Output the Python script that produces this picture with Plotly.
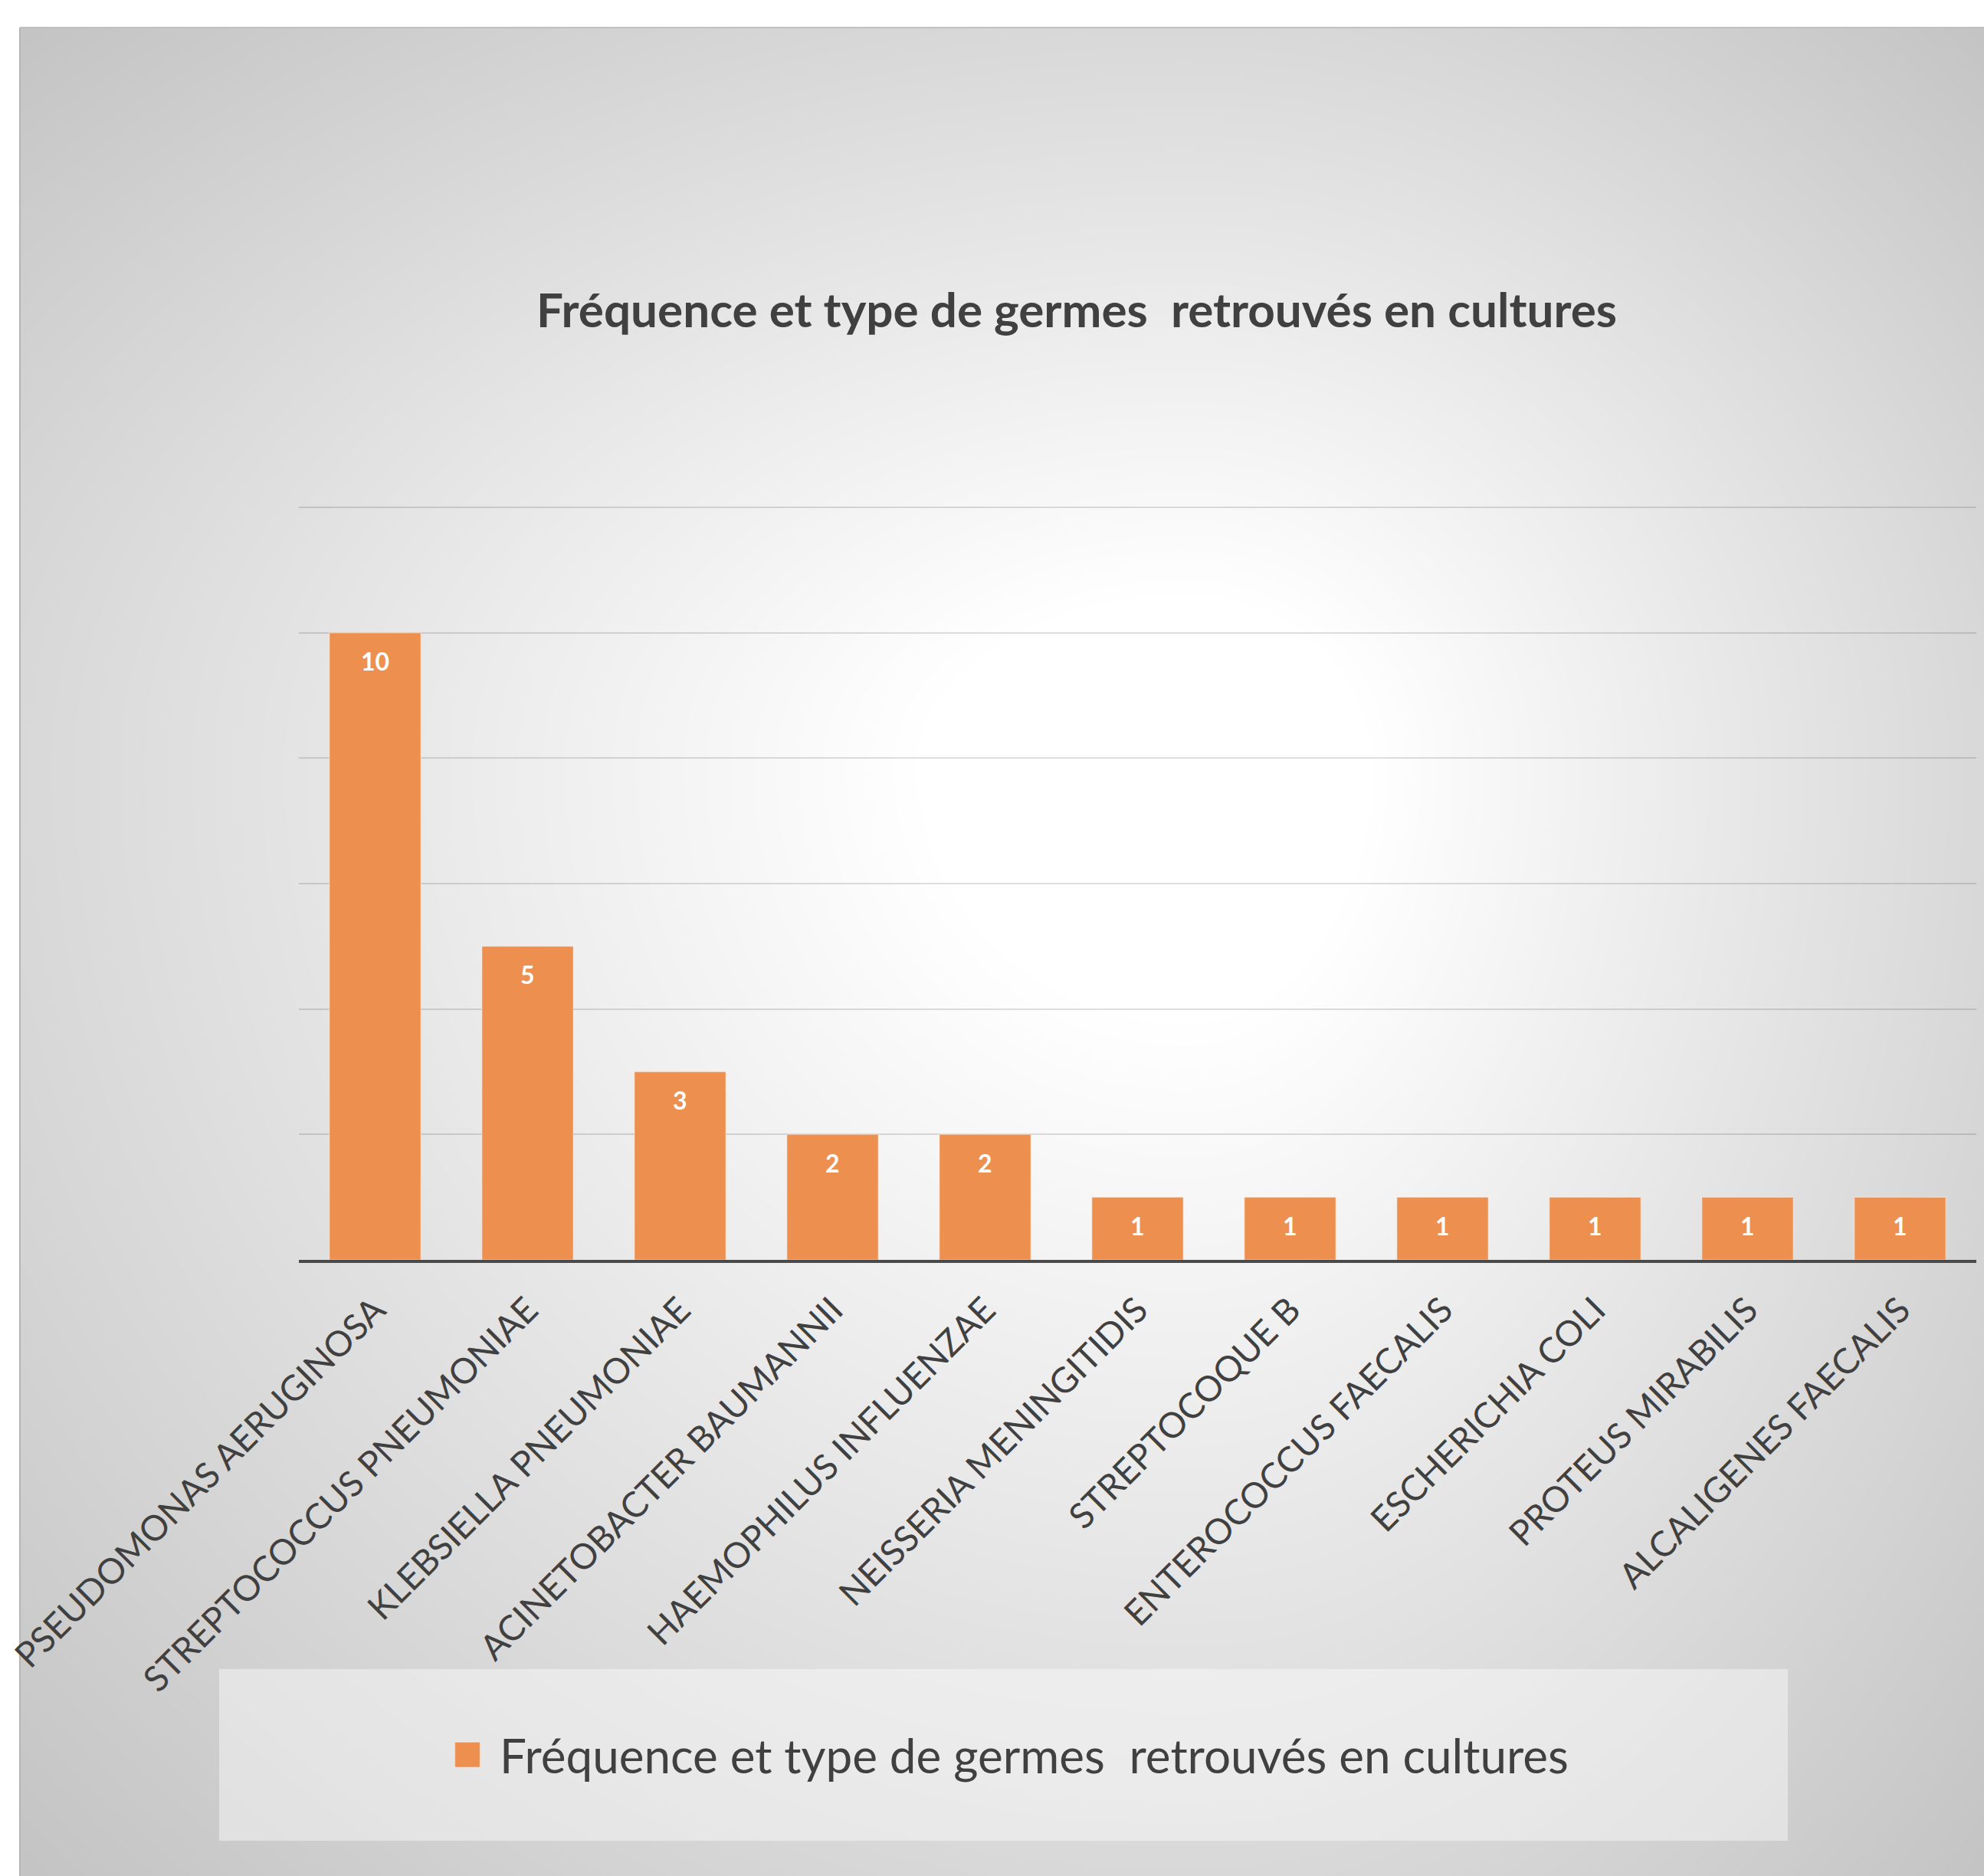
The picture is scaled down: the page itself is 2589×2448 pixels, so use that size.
import plotly.graph_objects as go

# ---------------- data ----------------
categories = [
    "PSEUDOMONAS AERUGINOSA", "STREPTOCOCCUS PNEUMONIAE", "KLEBSIELLA PNEUMONIAE",
    "ACINETOBACTER BAUMANNII", "HAEMOPHILUS INFLUENZAE", "NEISSERIA MENINGITIDIS",
    "STREPTOCOQUE B", "ENTEROCOCCUS FAECALIS", "ESCHERICHIA COLI",
    "PROTEUS MIRABILIS", "ALCALIGENES FAECALIS",
]
counts = [10, 5, 3, 2, 2, 1, 1, 1, 1, 1, 1]
series_name = "Fréquence et type de germes  retrouvés en cultures"
title_text = "Fréquence et type de germes  retrouvés en cultures"
y_max = 12
y_dtick = 2

# ---------------- layout geometry ----------------
W, H = 2589, 2448
ML, MR, MT, MB = 390, 10, 660, 804
PW = W - ML - MR
PH = H - MT - MB
UNIT_PX = 81.83                      # pixels per y unit
Y_TOP = y_max + 2 / UNIT_PX          # tiny headroom so the top gridline shows
FONT = "Lato"
TXT = "#404040"
BAR = "#ED8F4F"


def px(x):
    return (x - ML) / PW


def py(y):
    return (H - MB - y) / PH


def ellipse_path(cx, cy, rl, rr, rt, rb):
    """closed path of a 4-quadrant ellipse (pixel radii), in paper coords"""
    k = 0.5523
    P = lambda x, y: f"{px(x):.5f},{py(y):.5f}"
    return (f"M{P(cx + rr, cy)}"
            f" C{P(cx + rr, cy + k * rb)} {P(cx + k * rr, cy + rb)} {P(cx, cy + rb)}"
            f" C{P(cx - k * rl, cy + rb)} {P(cx - rl, cy + k * rb)} {P(cx - rl, cy)}"
            f" C{P(cx - rl, cy - k * rt)} {P(cx - k * rl, cy - rt)} {P(cx, cy - rt)}"
            f" C{P(cx + k * rr, cy - rt)} {P(cx + rr, cy - k * rt)} {P(cx + rr, cy)} Z")


shapes = []
# chart area base
BASE = 196
shapes.append(dict(type="rect", xref="paper", yref="paper", layer="below",
                   x0=px(26), x1=px(W + 50), y0=py(36), y1=py(H + 50),
                   fillcolor=f"rgb({BASE},{BASE},{BASE})", line=dict(width=0)))
# radial gradient approximation (stacked white ellipses)
cx, cy = 1550, 1000
RL, RR, RT, RB = 2155, 1470, 1363, 2048
N = 60
T_IN = 0.15
step = (1 - T_IN) / N


def bright(t):
    u = max(0.0, min(1.0, (t - T_IN) / (1 - T_IN)))
    return BASE + (255 - BASE) * (1 - u ** 1.3)


cur = BASE
for k in range(N):
    t = 1 - k * step
    target = bright(t - step / 2)
    a = (target - cur) / (255 - cur)
    cur = target
    shapes.append(dict(type="path", xref="paper", yref="paper", layer="below",
                       path=ellipse_path(cx, cy, RL * t, RR * t, RT * t, RB * t),
                       fillcolor="white", opacity=max(0.0, min(1.0, a)), line=dict(width=0)))
# white page margins (top / left)
shapes.append(dict(type="rect", xref="paper", yref="paper", layer="below",
                   x0=px(-20), x1=px(W + 50), y0=py(-20), y1=py(35),
                   fillcolor="white", line=dict(width=0)))
shapes.append(dict(type="rect", xref="paper", yref="paper", layer="below",
                   x0=px(-20), x1=px(25), y0=py(-20), y1=py(H + 50),
                   fillcolor="white", line=dict(width=0)))
# chart border (left/top)
shapes.append(dict(type="line", xref="paper", yref="paper", layer="below",
                   x0=px(26), x1=px(26), y0=py(36), y1=py(H + 50),
                   line=dict(color="#b5b5b5", width=2)))
shapes.append(dict(type="line", xref="paper", yref="paper", layer="below",
                   x0=px(26), x1=px(W + 50), y0=py(36), y1=py(36),
                   line=dict(color="#c0c0c0", width=2)))
# legend box
shapes.append(dict(type="rect", xref="paper", yref="paper", layer="below",
                   x0=px(286), x1=px(2333), y0=py(2178), y1=py(2402),
                   fillcolor="rgba(255,255,255,0.42)", line=dict(width=0)))

fig = go.Figure()
fig.add_trace(go.Bar(
    x=categories, y=counts, name=series_name,
    marker=dict(color=BAR, line=dict(color="rgba(255,255,255,0.35)", width=1.5)),
    hoverinfo="x+y",
))

annotations = []
for c, v in zip(categories, counts):
    annotations.append(dict(x=c, y=v, xref="x", yref="y", text=str(v),
                            showarrow=False, yanchor="middle", yshift=-37,
                            font=dict(family=FONT, size=32, color="white", weight="bold")))

fig.update_layout(
    template="none",
    width=W, height=H,
    margin=dict(l=ML, r=MR, t=MT, b=MB, autoexpand=False),
    paper_bgcolor="white",
    plot_bgcolor="rgba(0,0,0,0)",
    bargap=0.4,
    title=dict(text=title_text, x=1405 / W, xref="container", xanchor="center",
               y=1 - 405 / H, yref="container", yanchor="middle",
               font=dict(family=FONT, size=62, color=TXT, weight="bold")),
    xaxis=dict(showline=True, linecolor="#4a4a4a", linewidth=4, ticks="",
               tickangle=-45, tickfont=dict(family=FONT, size=46, color=TXT),
               ticklabelstandoff=16,
               showgrid=False, zeroline=False, automargin=False),
    yaxis=dict(range=[0, Y_TOP], dtick=y_dtick, tick0=0, showticklabels=False, ticks="",
               showgrid=True, gridcolor="rgba(0,0,0,0.13)", gridwidth=2,
               zeroline=False, showline=False, automargin=False),
    showlegend=True,
    legend=dict(x=px(1316), xanchor="center", y=py(2290), yanchor="middle",
                font=dict(family=FONT, size=62, color=TXT),
                bgcolor="rgba(0,0,0,0)", itemwidth=62),
    shapes=shapes,
    annotations=annotations,
)

post = """
function fixLegendSymbol(){
  var nodes = document.querySelectorAll('.legend .legendpoints path, g.legendpoints path, path.legendbar');
  nodes.forEach(function(p){
    p.setAttribute('d','M10.5,16.5H-22.5V-16.5H10.5Z');
  });
}
fixLegendSymbol();
[30, 100, 300, 800, 1500, 3000].forEach(function(t){ setTimeout(fixLegendSymbol, t); });
var gdv = document.getElementById('{plot_id}');
if (gdv && gdv.on) { gdv.on('plotly_afterplot', fixLegendSymbol); }
"""
fig.write_html("out.html", post_script=post)
